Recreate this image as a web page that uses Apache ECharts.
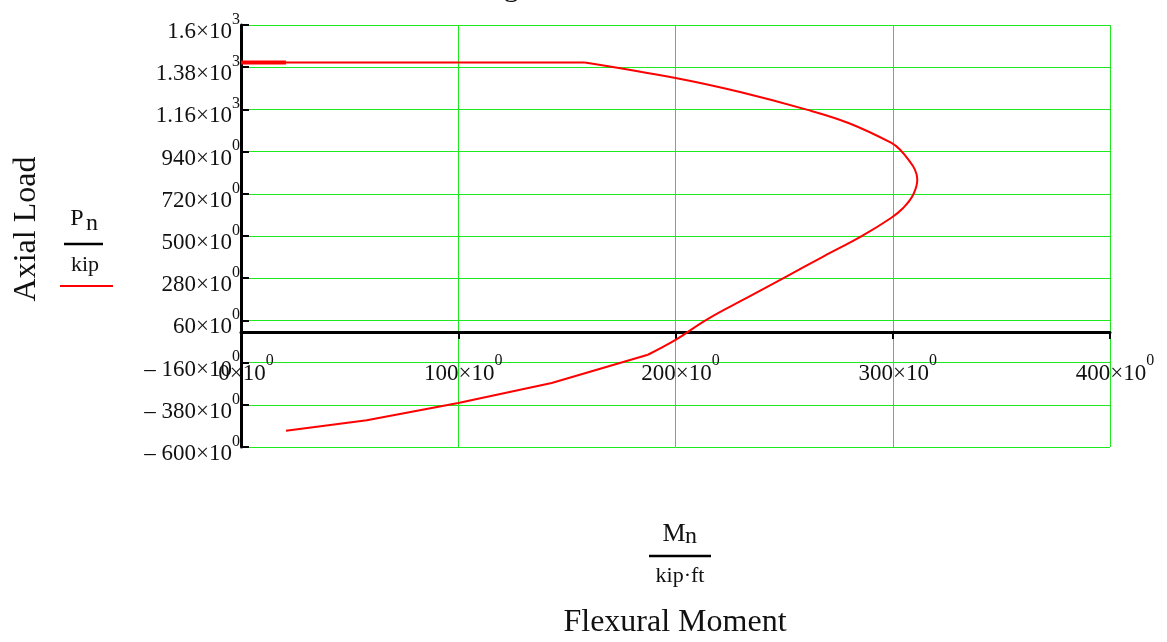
<!DOCTYPE html>
<html>
<head>
<meta charset="utf-8">
<script src="https://cdn.jsdelivr.net/npm/echarts@6/dist/echarts.min.js"></script>
<style>
html,body{margin:0;padding:0;background:#fff;}
#chart{width:1167px;height:642px;}
</style>
</head>
<body>
<div id="chart"></div>
<script>
// Interaction curve: flexural moment Mn (kip·ft) vs axial load Pn (kip)
const momentValues = [20.7, 57.9, 100, 143, 187.3, 200, 214.4, 232.8, 251.2, 268, 285.9, 299.2, 304.8, 309.4, 311.3, 310.2, 307.2, 303.7, 299.4, 279.9, 260.4, 229.7, 200, 158.3, 20.7];
const axialValues  = [-515, -461, -371, -266, -119, -42, 64, 177, 289, 393, 501, 594, 646, 715, 794, 846, 898, 946, 985, 1088, 1159, 1251, 1324, 1405, 1405];
// short heavy cap segment at the top-left
const capMoment = [0, 20.7];
const capAxial = [1405, 1405];

// tick labels
const yTickMantissa = ['– 600', '– 380', '– 160', '60', '280', '500', '720', '940', '1.16', '1.38', '1.6'];
const yTickExponent = ['0', '0', '0', '0', '0', '0', '0', '0', '3', '3', '3'];
const xTickMantissa = ['0', '100', '200', '300', '400'];
const xTickExponent = ['0', '0', '0', '0', '0'];

const curve = momentValues.map((m, i) => [m, axialValues[i]]);
const lowerPart = curve.slice(0, 5);      // straight segments (tension side)
const upperPart = curve.slice(4, 24);     // smooth bulge
const plateau = curve.slice(23);          // flat top
const cap = capMoment.map((m, i) => [m, capAxial[i]]);

const SERIF = 'Liberation Serif';
const GREEN = '#1ee81e';
const rich = {
  b: { fontFamily: SERIF, fontSize: 23, color: '#111' },
  s: { fontFamily: SERIF, fontSize: 16, color: '#111', padding: [0, 0, 25, 0] }
};
const red = { color: '#ff0000', width: 2 };

const Y_MIN = -600, Y_MAX = 1600;
const GRID_TOP = 25, GRID_BOTTOM = 195, CH = 642;
const plotH = CH - GRID_TOP - GRID_BOTTOM;
// x axis sits on P = 0 (axis line, ticks and labels together)
const xAxisOffset = -Math.round(plotH * (0 - Y_MIN) / (Y_MAX - Y_MIN));

const chart = echarts.init(document.getElementById('chart'), null, { renderer: 'canvas' });
chart.setOption({
  animation: false,
  backgroundColor: '#fff',
  grid: { left: 241, right: 57, top: GRID_TOP, bottom: GRID_BOTTOM, containLabel: false },
  xAxis: {
    type: 'value', min: 0, max: 400, interval: 100, position: 'bottom', offset: xAxisOffset,
    axisLine: { onZero: false, lineStyle: { color: '#000', width: 3 } },
    axisTick: { show: true, inside: false, length: 7, lineStyle: { color: '#000', width: 2 } },
    splitLine: { show: true, lineStyle: { color: GREEN, width: 1 } },
    axisLabel: {
      margin: 21, padding: [0, 0, 0, 10], rich: rich,
      formatter: (v, i) => '{b|' + xTickMantissa[i] + '×10}{s|' + xTickExponent[i] + '}'
    }
  },
  yAxis: {
    type: 'value', min: Y_MIN, max: Y_MAX, interval: 220,
    axisLine: { onZero: false, lineStyle: { color: '#000', width: 3 } },
    axisTick: { show: true, inside: true, length: 8, lineStyle: { color: '#000', width: 2 } },
    splitLine: { show: true, lineStyle: { color: GREEN, width: 1 } },
    axisLabel: {
      margin: 1, padding: [14, 0, 0, 0], align: 'right', rich: rich,
      formatter: (v, i) => '{b|' + yTickMantissa[i] + '×10}{s|' + yTickExponent[i] + '}'
    }
  },
  series: [
    { type: 'line', data: lowerPart, showSymbol: false, lineStyle: red, z: 5 },
    { type: 'line', data: upperPart, showSymbol: false, smooth: 0.4, lineStyle: red, z: 5 },
    { type: 'line', data: plateau, showSymbol: false, lineStyle: red, z: 5 },
    { type: 'line', data: cap, showSymbol: false, lineStyle: { color: '#ff0000', width: 4 }, z: 5 }
  ],
  graphic: [
    { type: 'text', left: 323, top: -27, style: { text: 'Interaction Diagram', fontFamily: SERIF, fontSize: 30, fill: '#111' } },
    { type: 'text', x: 27, y: 229, rotation: Math.PI / 2, style: { text: 'Axial Load', fontFamily: SERIF, fontSize: 32, fill: '#111', align: 'center', verticalAlign: 'middle' } },
    { type: 'text', x: 77, y: 219, style: { text: 'P', fontFamily: SERIF, fontSize: 24, fill: '#111', align: 'center', verticalAlign: 'middle' } },
    { type: 'text', x: 92, y: 224, style: { text: 'n', fontFamily: SERIF, fontSize: 24, fill: '#111', align: 'center', verticalAlign: 'middle' } },
    { type: 'line', shape: { x1: 64, y1: 244, x2: 103, y2: 244 }, style: { stroke: '#000', lineWidth: 2.5 } },
    { type: 'text', x: 85, y: 265, style: { text: 'kip', fontFamily: SERIF, fontSize: 22, fill: '#111', align: 'center', verticalAlign: 'middle' } },
    { type: 'line', shape: { x1: 60, y1: 286, x2: 113, y2: 286 }, style: { stroke: '#ff0000', lineWidth: 2 } },
    { type: 'text', x: 674, y: 534, style: { text: 'M', fontFamily: SERIF, fontSize: 26, fill: '#111', align: 'center', verticalAlign: 'middle' } },
    { type: 'text', x: 691, y: 537, style: { text: 'n', fontFamily: SERIF, fontSize: 24, fill: '#111', align: 'center', verticalAlign: 'middle' } },
    { type: 'line', shape: { x1: 649, y1: 556, x2: 711, y2: 556 }, style: { stroke: '#000', lineWidth: 2.5 } },
    { type: 'text', x: 680, y: 576, style: { text: 'kip·ft', fontFamily: SERIF, fontSize: 22, fill: '#111', align: 'center', verticalAlign: 'middle' } },
    { type: 'text', x: 675, y: 623, style: { text: 'Flexural Moment', fontFamily: SERIF, fontSize: 32, fill: '#111', align: 'center', verticalAlign: 'middle' } }
  ]
});
</script>
</body>
</html>
